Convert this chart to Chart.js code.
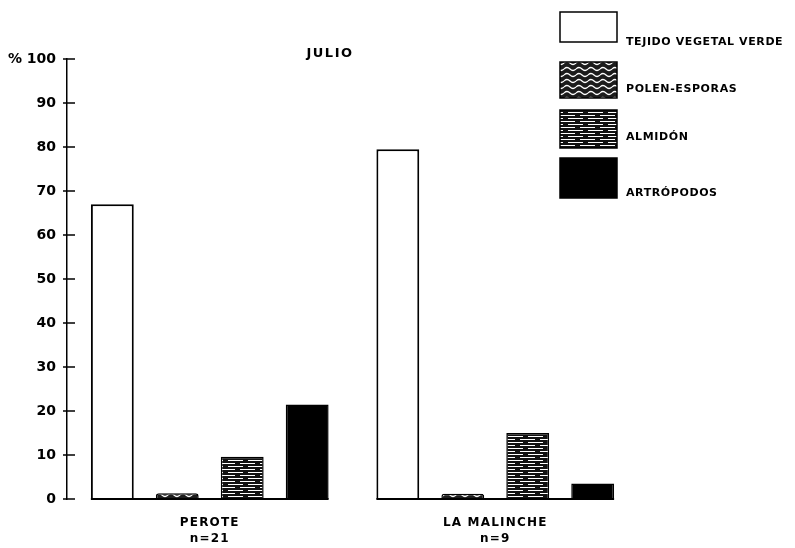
<!DOCTYPE html>
<html lang="es">
<head>
    <meta charset="UTF-8">
    <title>Julio - Perote / La Malinche</title>
    <script src="https://cdn.jsdelivr.net/npm/chart.js"></script>
    <style>
        html, body { margin: 0; padding: 0; background: #fff; }
        #wrap { width: 795px; height: 548px; position: relative; }
    </style>
</head>
<body>
    <div id="wrap"><canvas id="grafica"></canvas></div>

    <script>
        // Datos
        const categorias = [['PEROTE', 'n=21'], ['LA MALINCHE', 'n=9']];
        const series = ['TEJIDO VEGETAL VERDE', 'POLEN-ESPORAS', 'ALMIDÓN', 'ARTRÓPODOS'];
        const tejido = [67, 79.5];
        const polen = [1.3, 1.2];
        const almidon = [9.6, 15];
        const artropodos = [21.5, 3.5];
        const yMin = 0, yMax = 100, yPaso = 10;
        const titulo = 'JULIO';

        const fuente = 'DejaVu Sans';

        // Tramas para polen y almidón
        function tramaPolen() {
            const c = document.createElement('canvas');
            c.width = 12; c.height = 6;
            const g = c.getContext('2d');
            g.fillStyle = '#1c1c1c';
            g.fillRect(0, 0, 12, 6);
            g.strokeStyle = '#fff';
            g.lineWidth = 1.2;
            g.beginPath();
            g.moveTo(0, 3);
            g.quadraticCurveTo(3, 0, 6, 3);
            g.quadraticCurveTo(9, 6, 12, 3);
            g.stroke();
            return g.createPattern(c, 'repeat');
        }

        function tramaAlmidon() {
            const c = document.createElement('canvas');
            c.width = 20; c.height = 6;
            const g = c.getContext('2d');
            g.fillStyle = '#111';
            g.fillRect(0, 0, 20, 6);
            g.fillStyle = '#fff';
            g.fillRect(0, 1, 15, 1);
            g.fillRect(8, 4, 12, 1);
            g.fillRect(0, 4, 3, 1);
            return g.createPattern(c, 'repeat');
        }

        const fondos = ['#ffffff', tramaPolen(), tramaAlmidon(), '#000000'];
        const valores = [tejido, polen, almidon, artropodos];

        // Etiquetas del eje X con letras espaciadas
        const espaciado = {
            id: 'espaciado',
            afterLayout(chart) {
                const xs = chart.scales.x;
                if (xs._conEspacio) return;
                const orig = xs.drawLabels;
                xs.drawLabels = function (area) {
                    const c = this.ctx;
                    c.save();
                    c.letterSpacing = '1.2px';
                    orig.call(this, area);
                    c.restore();
                };
                xs._conEspacio = true;
            }
        };

        // Marcas del eje Y hacia adentro y línea base de cada grupo
        const ejes = {
            id: 'ejes',
            afterDraw(chart) {
                const ctx = chart.ctx;
                const y = chart.scales.y;
                const x0 = chart.chartArea.left;
                ctx.save();
                ctx.strokeStyle = '#000';
                ctx.lineWidth = 1.5;
                y.ticks.forEach(t => {
                    const py = y.getPixelForValue(t.value);
                    ctx.beginPath();
                    ctx.moveTo(x0 - 4, py);
                    ctx.lineTo(x0 + 8, py);
                    ctx.stroke();
                });
                // línea base por grupo
                const base = y.getPixelForValue(0);
                ctx.lineWidth = 2;
                categorias.forEach((_, i) => {
                    let izq = Infinity, der = -Infinity;
                    chart.data.datasets.forEach((d, k) => {
                        const b = chart.getDatasetMeta(k).data[i];
                        izq = Math.min(izq, b.x - b.width / 2);
                        der = Math.max(der, b.x + b.width / 2);
                    });
                    ctx.beginPath();
                    ctx.moveTo(izq, base);
                    ctx.lineTo(der, base);
                    ctx.stroke();
                });
                ctx.restore();
            }
        };

        // Leyenda a la derecha y título
        const leyenda = {
            id: 'leyenda',
            afterDraw(chart) {
                const ctx = chart.ctx;
                const cajas = [[12, 30], [62, 36], [110, 38], [158, 40]];
                const textoY = [42, 89, 137, 193];
                ctx.save();
                ctx.letterSpacing = '0.6px';
                ctx.font = 'bold 11px ' + fuente;
                ctx.textBaseline = 'middle';
                ctx.textAlign = 'left';
                series.forEach((s, i) => {
                    const [top, h] = cajas[i];
                    ctx.fillStyle = fondos[i];
                    ctx.fillRect(560, top, 57, h);
                    ctx.strokeStyle = '#000';
                    ctx.lineWidth = 1.5;
                    ctx.strokeRect(560, top, 57, h);
                    ctx.fillStyle = '#000';
                    ctx.fillText(s, 626, textoY[i]);
                });
                ctx.letterSpacing = '1.5px';
                ctx.font = 'bold 13px ' + fuente;
                ctx.textAlign = 'center';
                ctx.fillText(titulo, 330, 54);
                ctx.restore();
            }
        };

        const ctx = document.getElementById('grafica').getContext('2d');
        new Chart(ctx, {
            type: 'bar',
            data: {
                labels: categorias,
                datasets: series.map((s, i) => ({
                    label: s,
                    data: valores[i],
                    backgroundColor: fondos[i],
                    borderColor: '#000',
                    borderWidth: i === 0 ? 2 : 1.5,
                    borderRadius: i === 1 ? 3 : 0,
                    categoryPercentage: 0.91,
                    barPercentage: 0.66
                }))
            },
            options: {
                responsive: true,
                maintainAspectRatio: false,
                animation: false,
                layout: { padding: { left: 0, top: 59, right: 157, bottom: 0 } },
                plugins: {
                    legend: { display: false },
                    tooltip: { enabled: false }
                },
                scales: {
                    x: {
                        grid: { display: false, drawTicks: false },
                        border: { display: false },
                        ticks: {
                            color: '#000',
                            autoSkip: false,
                            maxRotation: 0,
                            padding: 16,
                            font: { family: fuente, weight: 'bold', size: 12, lineHeight: '16px' }
                        },
                        afterFit(scale) { scale.height = 49; }
                    },
                    y: {
                        min: yMin,
                        max: yMax,
                        grid: { display: false, drawTicks: false },
                        border: { display: true, color: '#000', width: 1.5 },
                        ticks: {
                            stepSize: yPaso,
                            color: '#000',
                            padding: 11,
                            font: { family: fuente, weight: 'bold', size: 14 },
                            callback: v => v === yMax ? '% ' + v : v
                        },
                        afterFit(scale) { scale.width = 67; }
                    }
                }
            },
            plugins: [espaciado, ejes, leyenda]
        });
    </script>
</body>
</html>
